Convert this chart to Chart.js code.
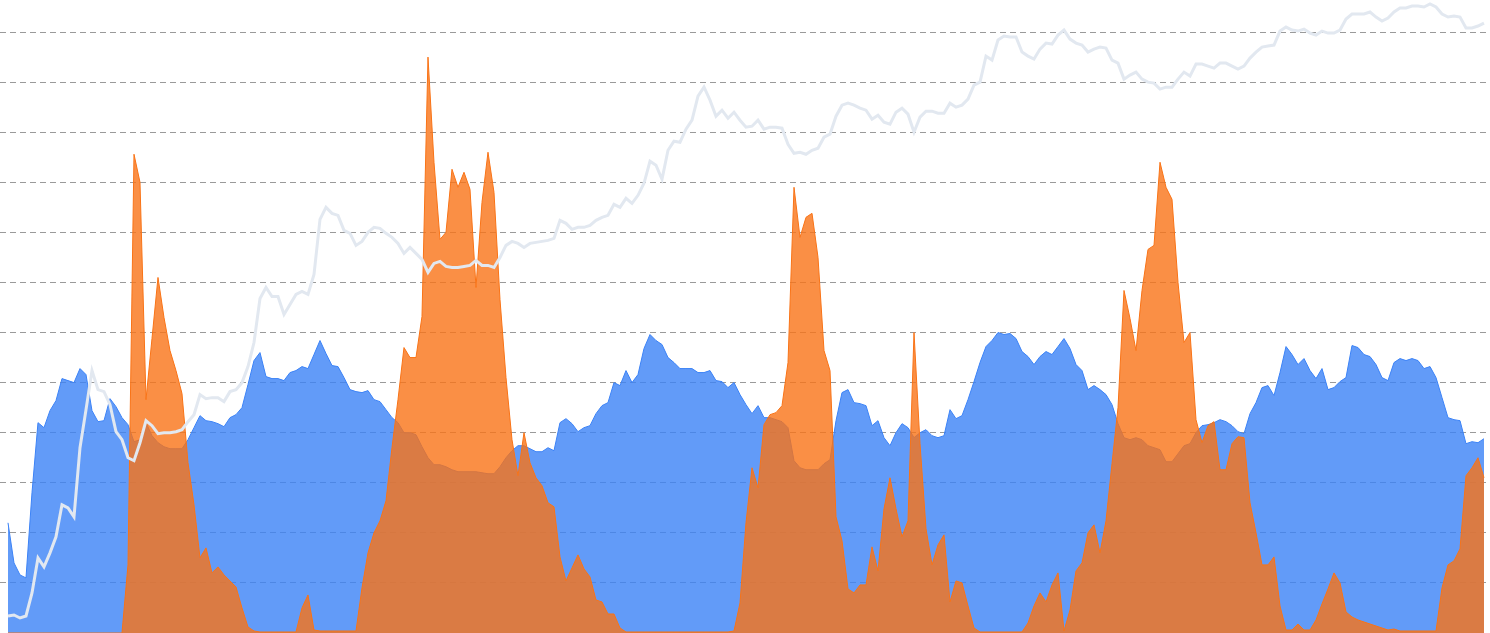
<!DOCTYPE html>
<html>
<head>
<meta charset="utf-8">
<script src="https://cdn.jsdelivr.net/npm/chart.js@4.4.1/dist/chart.umd.min.js"></script>
<style>
  html, body { margin: 0; padding: 0; background: #ffffff; }
  #wrap { width: 1490px; height: 633px; position: relative; }
  canvas { display: block; }
</style>
</head>
<body>
<div id="wrap"><canvas id="c" width="1490" height="633"></canvas></div>
<script>
// Blue series (supply held by long-term group), one value per sample
const blueSeries = [
110,70,58,55,140,210,205,222,232,254,252,250,264,258,222,211,212,234,226,215,
208,191,193,210,197,190,186,184,184,184,193,205,217,212,211,209,206,215,218,225,
248,272,280,256,254,254,252,260,262,266,264,278,292,279,267,266,255,243,241,240,
242,233,231,223,215,210,200,200,198,186,175,168,168,166,163,161,161,161,161,160,
159,159,166,175,182,187,187,184,181,181,185,182,210,214,209,201,205,207,219,227,
230,250,247,262,250,258,284,298,292,288,275,270,264,264,264,260,260,262,252,251,
245,250,238,228,219,227,215,215,213,211,205,172,165,163,163,163,169,173,212,240,
243,230,229,227,207,212,195,187,200,209,205,195,200,203,197,195,197,223,214,217,
233,251,270,286,292,300,298,299,294,281,276,268,276,281,278,286,294,284,268,262,
243,247,243,238,228,209,195,193,195,193,187,185,183,171,171,179,187,189,200,207,
208,210,213,211,207,201,199,219,230,245,247,237,260,286,278,268,274,262,254,264,
243,245,251,255,287,285,278,276,268,255,252,270,274,272,274,272,264,266,255,235,
215,213,212,189,191,190,194
];

// Orange series (supply held by short-term group)
const orangeSeries = [
0,0,0,0,0,0,0,0,0,0,0,0,0,0,0,0,0,0,0,0,
68,478,450,233,294,355,315,282,262,239,170,128,75,85,60,66,58,52,46,25,
6,2,1,1,1,1,1,1,1,25,38,3,2,2,2,2,2,2,2,45,
80,100,112,132,185,233,285,275,275,316,575,470,393,400,463,445,460,443,345,430,
480,440,333,255,193,157,200,170,155,147,130,126,76,52,65,78,64,56,33,31,
19,19,5,1,1,1,1,1,1,1,1,1,1,1,1,1,1,1,1,1,
1,2,30,110,165,145,208,218,220,227,270,445,395,415,419,375,282,262,116,92,
44,40,48,48,86,62,124,155,124,96,112,300,189,104,68,88,98,31,52,50,
27,5,1,1,1,1,1,1,1,1,10,27,40,31,48,60,2,23,62,70,
100,108,80,112,169,225,342,314,282,342,383,387,470,445,433,350,290,300,213,190,
207,211,163,163,189,196,195,130,100,68,68,76,27,3,3,9,3,3,13,29,
44,60,50,21,16,13,11,9,7,5,3,4,2,2,2,2,2,2,2,45,
68,72,84,157,165,175,155
];

// Price line (light grey), same sampling
const priceSeries = [
17,18,15,17,40,75,66,80,96,128,125,116,185,223,262,243,241,228,201,193,
175,172,190,212,207,199,200,200,201,203,211,218,238,234,235,235,231,241,243,250,
266,290,334,345,336,336,318,328,338,341,338,358,413,425,419,417,402,399,387,391,
400,405,404,399,395,389,379,385,379,373,360,369,371,366,365,365,366,367,372,367,
367,365,375,387,391,389,385,389,390,391,392,394,412,409,403,405,405,407,412,415,
417,428,425,434,429,437,449,471,467,453,482,491,490,503,512,536,545,532,516,522,
514,520,512,505,506,512,503,505,505,504,488,479,480,478,482,484,495,498,516,527,
529,527,524,522,513,517,510,508,520,524,518,500,515,521,521,519,519,529,525,527,
533,547,550,576,572,592,596,595,595,580,576,573,583,589,588,597,602,593,589,587,
580,583,585,584,572,569,553,557,560,553,550,549,543,545,545,553,560,556,568,568,
566,564,569,569,566,563,566,574,580,585,586,587,601,605,602,601,603,599,597,601,
599,599,602,613,618,618,618,620,615,611,614,620,624,624,626,626,625,628,625,618,
615,616,615,604,604,606,609
];

const sampleIndex = blueSeries.map((_, i) => i);
const gridValues = [50,100,150,200,250,300,350,400,450,500,550,600];

const toPoints = arr => arr.map((v, i) => ({ x: sampleIndex[i], y: v }));

const ctx = document.getElementById('c').getContext('2d');
new Chart(ctx, {
  type: 'line',
  data: {
    datasets: [
      {
        label: 'Price',
        data: toPoints(priceSeries),
        borderColor: '#e2e8f0',
        borderWidth: 3,
        pointRadius: 0,
        fill: false,
        tension: 0,
        order: 0
      },
      {
        label: 'Short-term',
        data: toPoints(orangeSeries),
        borderColor: 'rgb(249,115,22)',
        backgroundColor: 'rgba(249,115,22,0.8)',
        borderWidth: 1,
        pointRadius: 0,
        fill: 'origin',
        tension: 0,
        order: 1
      },
      {
        label: 'Long-term',
        data: toPoints(blueSeries),
        borderColor: 'rgb(59,130,246)',
        backgroundColor: 'rgba(59,130,246,0.8)',
        borderWidth: 1,
        pointRadius: 0,
        fill: 'origin',
        tension: 0,
        order: 2
      }
    ]
  },
  options: {
    responsive: false,
    animation: false,
    devicePixelRatio: 1,
    layout: { padding: { left: 0, right: 4, top: 0, bottom: 0 } },
    plugins: {
      legend: { display: false },
      tooltip: { enabled: false }
    },
    events: [],
    scales: {
      x: {
        type: 'linear',
        display: false,
        min: -1.333,
        max: 246.333
      },
      y: {
        type: 'linear',
        min: 0,
        max: 632,
        display: true,
        ticks: { display: false },
        border: { display: false, dash: [6, 4] },
        grid: { color: '#9a9a9a', lineWidth: 1, drawTicks: false },
        afterBuildTicks: scale => {
          scale.ticks = gridValues.map(v => ({ value: v }));
        }
      }
    }
  }
});
</script>
</body>
</html>
